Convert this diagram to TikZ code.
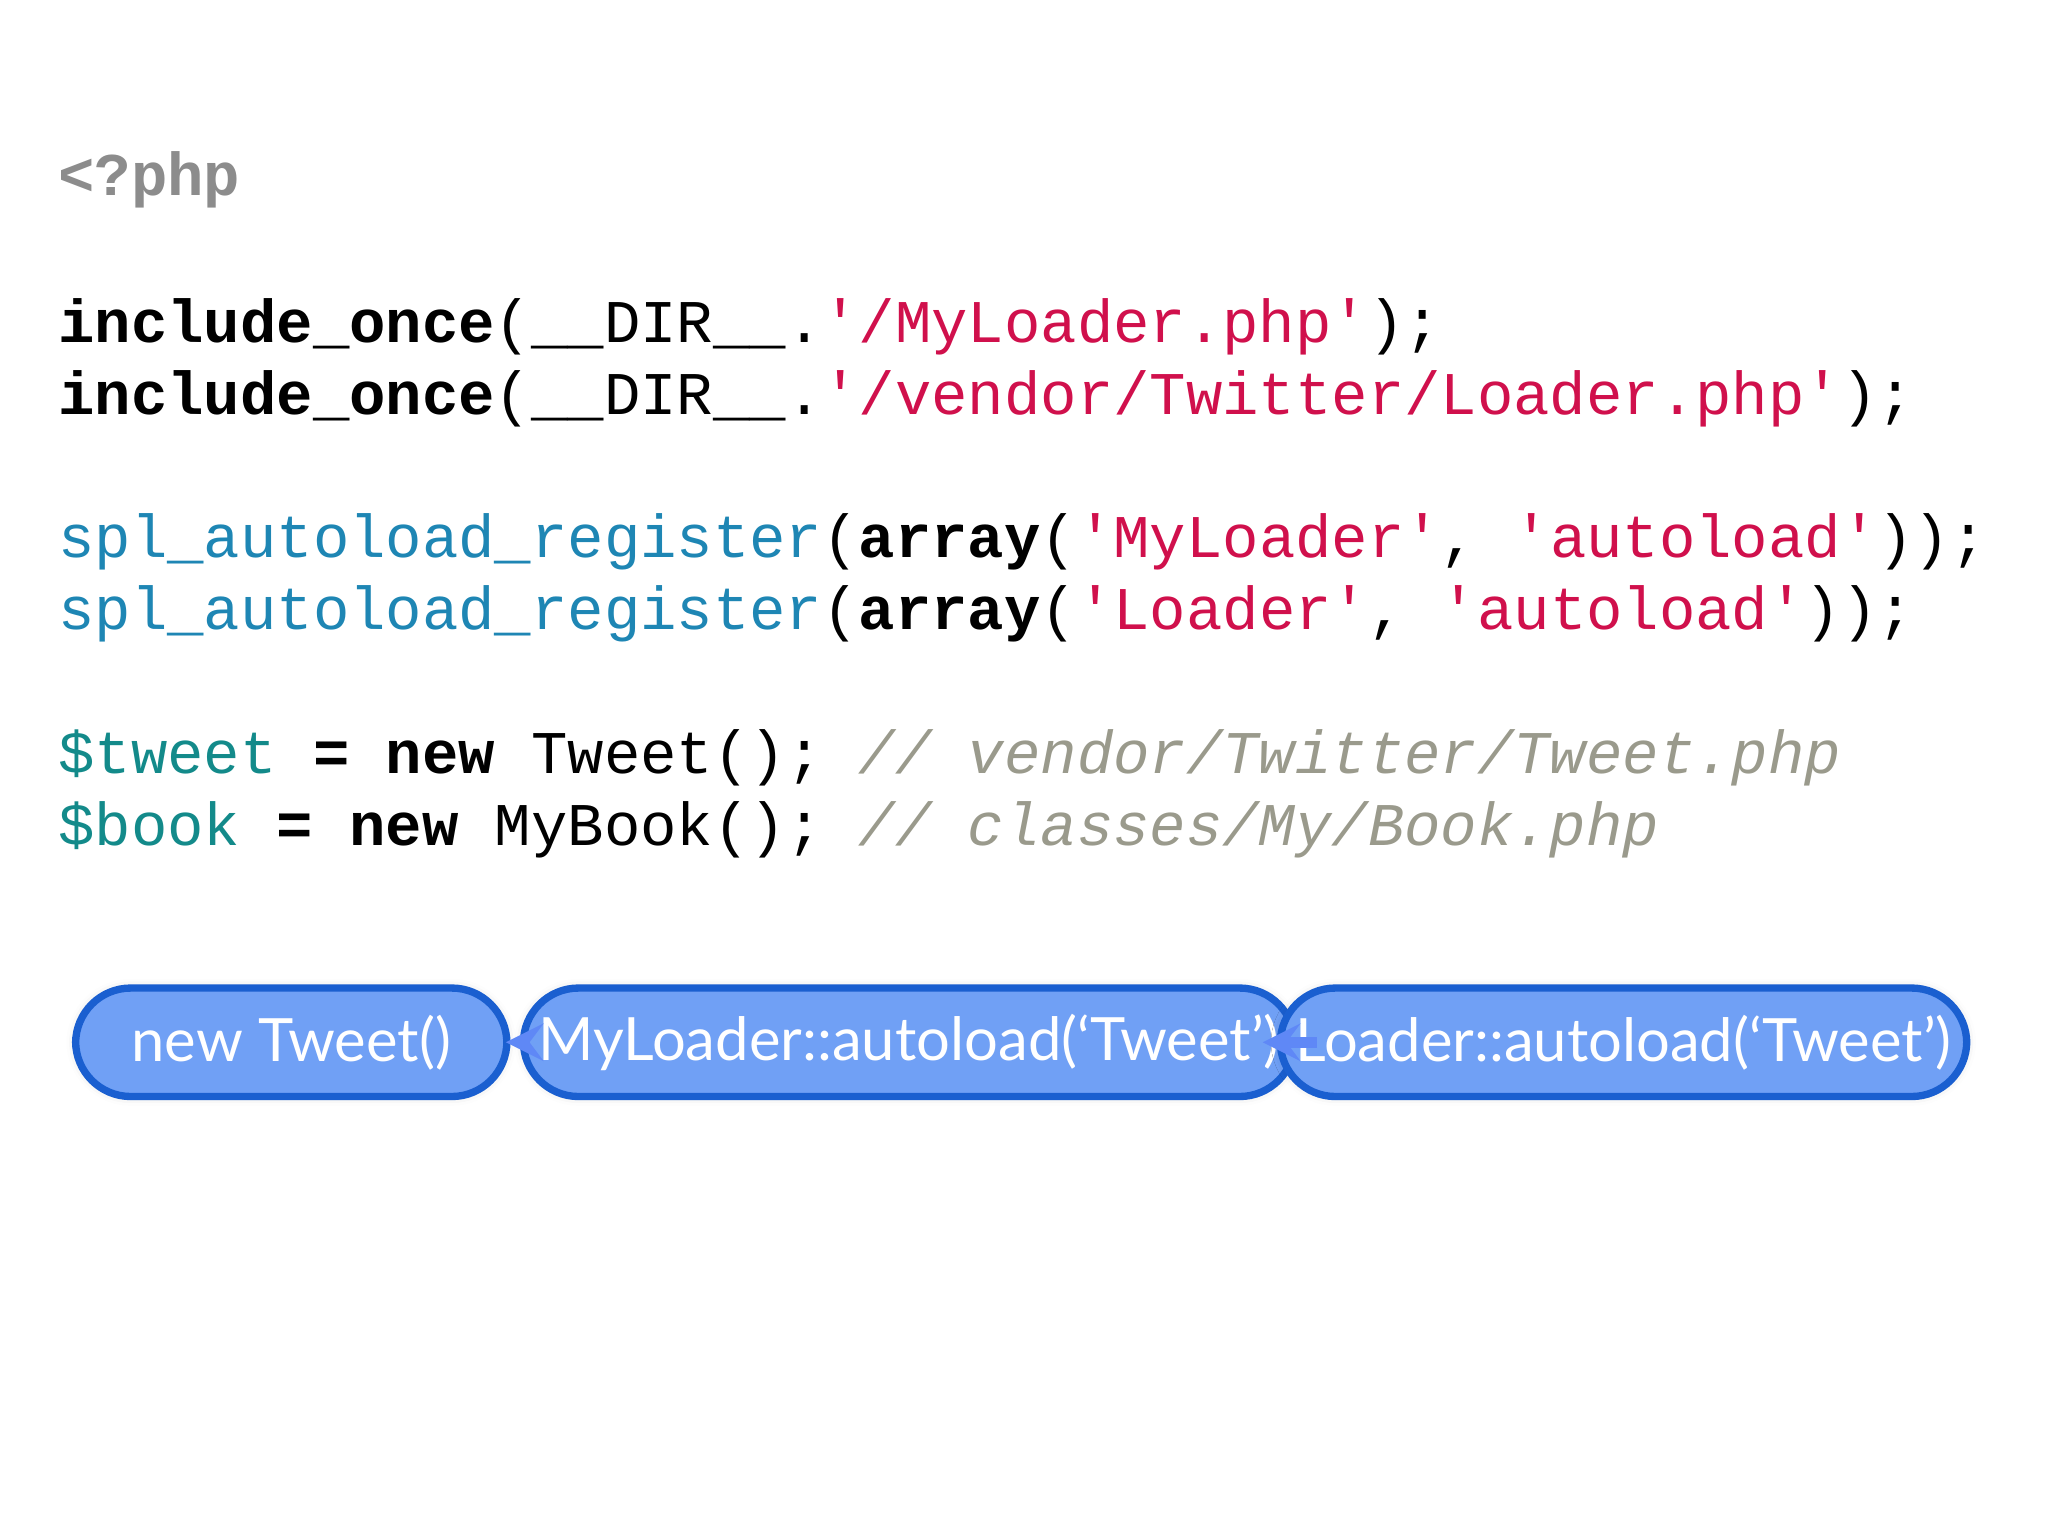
\documentclass[tikz,border=0pt]{standalone}
\usepackage{fontspec}
\setmainfont{Lato}
\setmonofont{Liberation Mono}
\usetikzlibrary{positioning,shadows.blur}
\definecolor{phpgray}{HTML}{8C8C8C}
\definecolor{strred}{HTML}{D0104C}
\definecolor{fnblue}{HTML}{1E86B4}
\definecolor{varteal}{HTML}{138A8A}
\definecolor{cmtgray}{HTML}{9A9A8C}
\definecolor{boxfill}{HTML}{70A0F5}
\definecolor{boxdraw}{HTML}{1A5FD0}
\newcommand{\kw}[1]{\textbf{#1}}
\newcommand{\str}[1]{\textcolor{strred}{#1}}
\newcommand{\cmt}[1]{\textcolor{cmtgray}{\itshape #1}}

\begin{document}
\begin{tikzpicture}[x=0.01cm,y=-0.01cm]
\tikzstyle{code} = [anchor=base west, inner sep=0, font=\ttfamily\fontsize{13.2}{15}\selectfont]
\tikzstyle{call} = [rectangle, rounded corners=12pt, minimum height=0.83cm, draw=boxdraw, line width=1.6pt, fill=boxfill, text=white, font=\fontsize{13}{15}\selectfont, blur shadow={shadow blur steps=4, shadow xshift=0pt, shadow yshift=0pt, shadow opacity=15}]
\tikzstyle{arrow} = [line width=2.5pt, ->, >=stealth, draw=boxfill!85!blue]

\useasboundingbox (0,0) rectangle (1568,1176);

\node (php) [code] at (44,150) {\textcolor{phpgray}{\kw{<?php}}};
\node (inc1) [code] at (44,262) {\kw{include\_once}(\_\_DIR\_\_.\str{'/MyLoader.php'});};
\node (inc2) [code] at (44,317) {\kw{include\_once}(\_\_DIR\_\_.\str{'/vendor/Twitter/Loader.php'});};
\node (reg1) [code] at (44,427) {\textcolor{fnblue}{spl\_autoload\_register}(\kw{array}(\str{'MyLoader'}, \str{'autoload'}));};
\node (reg2) [code] at (44,482) {\textcolor{fnblue}{spl\_autoload\_register}(\kw{array}(\str{'Loader'}, \str{'autoload'}));};
\node (tweet) [code] at (44,592) {\textcolor{varteal}{\$tweet} \kw{=} \kw{new} Tweet(); \cmt{// vendor/Twitter/Tweet.php}};
\node (book) [code] at (44,647) {\textcolor{varteal}{\$book} \kw{=} \kw{new} MyBook(); \cmt{// classes/My/Book.php}};

\node (newtweet) [call, minimum width=3.3cm] at (223,798) {new Tweet()};
\node (myloader) [call, minimum width=4.79cm] at (696,798) {MyLoader::autoload(‘Tweet’)};
\node (loader) [call, minimum width=4.79cm] at (1243,798) {Loader::autoload(‘Tweet’)};

\draw [arrow] ([xshift=4pt]newtweet.east) -- ([xshift=-3pt]myloader.west);
\draw [arrow] ([xshift=4pt]myloader.east) -- ([xshift=-3pt]loader.west);
\end{tikzpicture}
\end{document}
